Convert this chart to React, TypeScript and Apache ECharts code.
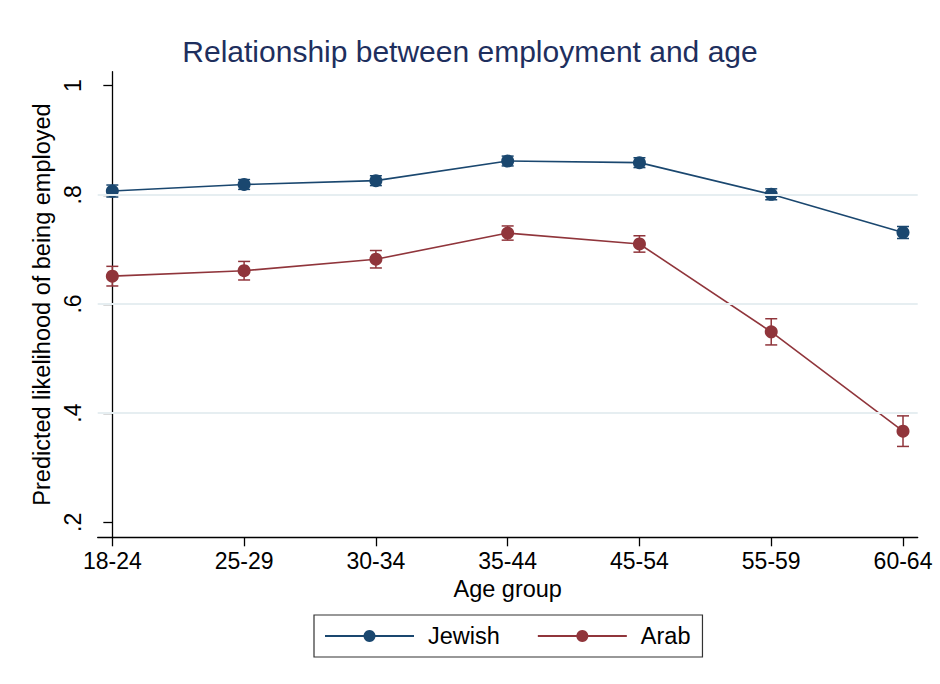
import React, { useEffect, useRef } from "react";
import * as echarts from "echarts";

const categories = ["18-24", "25-29", "30-34", "35-44", "45-54", "55-59", "60-64"];
const jewishValues = [0.807, 0.819, 0.826, 0.862, 0.859, 0.801, 0.731];
const jewishError = [0.011, 0.009, 0.009, 0.009, 0.009, 0.01, 0.011];
const arabValues = [0.651, 0.661, 0.682, 0.73, 0.71, 0.549, 0.367];
const arabError = [0.018, 0.017, 0.016, 0.013, 0.015, 0.024, 0.028];
const yTicks = [0.2, 0.4, 0.6, 0.8, 1];
const yTickLabels = [".2", ".4", ".6", ".8", "1"];
const gridValues = [0.4, 0.6, 0.8];

const FONT = "'Liberation Sans', Arial, Helvetica, sans-serif";
const NAVY = "#1a476f";
const MAROON = "#90353b";

function errorSeries(name: string, vals: number[], errs: number[], color: string) {
  return {
    type: "custom",
    name: name + " CI",
    z: 2,
    silent: true,
    data: vals.map((v, i) => [i, v - errs[i], v + errs[i]]),
    encode: { x: 0, y: [1, 2] },
    renderItem: (params: any, api: any) => {
      const x = api.value(0);
      const lo = api.coord([x, api.value(1)]);
      const hi = api.coord([x, api.value(2)]);
      const w = 6;
      const style = { stroke: color, lineWidth: 1.5, fill: "none" };
      return {
        type: "group",
        children: [
          { type: "line", shape: { x1: lo[0], y1: lo[1], x2: hi[0], y2: hi[1] }, style },
          { type: "line", shape: { x1: lo[0] - w, y1: lo[1], x2: lo[0] + w, y2: lo[1] }, style },
          { type: "line", shape: { x1: hi[0] - w, y1: hi[1], x2: hi[0] + w, y2: hi[1] }, style },
        ],
      };
    },
  };
}

export default function App() {
  const ref = useRef<HTMLDivElement>(null);
  useEffect(() => {
    if (!ref.current) return;
    const chart = echarts.init(ref.current, null, { renderer: "svg" });
    const idx = categories.map((_, i) => i);
    chart.setOption({
      animation: false,
      backgroundColor: "#ffffff",
      textStyle: { fontFamily: FONT },
      title: {
        text: "Relationship between employment and age",
        left: "center",
        top: 31,
        textStyle: { fontFamily: FONT, fontSize: 30, fontWeight: "normal", color: "#1e2f5e" },
      },
      grid: { left: 97.7, right: 22.3, top: 71.7, bottom: 146.7, containLabel: false },
      xAxis: {
        type: "value",
        min: -0.111,
        max: 6.1115,
        name: "Age group",
        nameLocation: "middle",
        nameGap: 38,
        nameTextStyle: { fontFamily: FONT, fontSize: 23.5, color: "#000" },
        axisLine: { show: true, lineStyle: { color: "#000", width: 1.3 } },
        axisTick: { show: true, length: 9, customValues: idx, lineStyle: { color: "#000", width: 1.3 } },
        axisLabel: {
          customValues: idx,
          margin: 12,
          fontSize: 23,
          fontFamily: FONT,
          color: "#000",
          formatter: (v: number) => categories[Math.round(v)] ?? "",
        },
        splitLine: { show: false },
      },
      yAxis: {
        type: "value",
        min: 0.1725,
        max: 1.02565,
        name: "Predicted likelihood of being employed",
        nameLocation: "middle",
        nameGap: 41,
        nameRotate: 90,
        nameTextStyle: { fontFamily: FONT, fontSize: 23.5, color: "#000" },
        axisLine: { show: true, lineStyle: { color: "#000", width: 1.3 } },
        axisTick: { show: true, length: 9, customValues: yTicks, lineStyle: { color: "#000", width: 1.3 } },
        axisLabel: {
          customValues: yTicks,
          rotate: 90,
          margin: 13,
          fontSize: 23,
          fontFamily: FONT,
          color: "#000",
          formatter: (v: number) => {
            const k = yTicks.findIndex((t) => Math.abs(t - v) < 1e-6);
            return k >= 0 ? yTickLabels[k] : "";
          },
        },
        splitLine: { show: false },
      },
      legend: {
        data: ["Jewish", "Arab"],
        left: 314,
        top: 615,
        orient: "horizontal",
        padding: [9, 12, 9, 10],
        itemWidth: 89,
        itemHeight: 15,
        itemGap: 37,
        borderColor: "#333",
        borderWidth: 1.2,
        textStyle: { fontFamily: FONT, fontSize: 23.5, color: "#000", padding: [0, 0, 0, 9] },
      },
      series: [
        {
          type: "line",
          name: "grid",
          data: [],
          z: 0,
          silent: true,
          markLine: {
            silent: true,
            symbol: "none",
            label: { show: false },
            lineStyle: { color: "#e6eef1", width: 2, type: "solid" },
            data: gridValues.map((v) => ({ yAxis: v })),
          },
        },
        errorSeries("Jewish", jewishValues, jewishError, NAVY),
        errorSeries("Arab", arabValues, arabError, MAROON),
        {
          type: "line",
          name: "Jewish",
          z: 3,
          data: jewishValues.map((v, i) => [i, v]),
          symbol: "circle",
          symbolSize: 13,
          itemStyle: { color: NAVY },
          lineStyle: { color: NAVY, width: 1.6 },
        },
        {
          type: "line",
          name: "Arab",
          z: 3,
          data: arabValues.map((v, i) => [i, v]),
          symbol: "circle",
          symbolSize: 13,
          itemStyle: { color: MAROON },
          lineStyle: { color: MAROON, width: 1.6 },
        },
      ],
    });
    return () => chart.dispose();
  }, []);
  return (
    <div
      ref={ref}
      style={{ position: "fixed", left: 0, top: 0, width: 940, height: 684, background: "#fff" }}
    />
  );
}
